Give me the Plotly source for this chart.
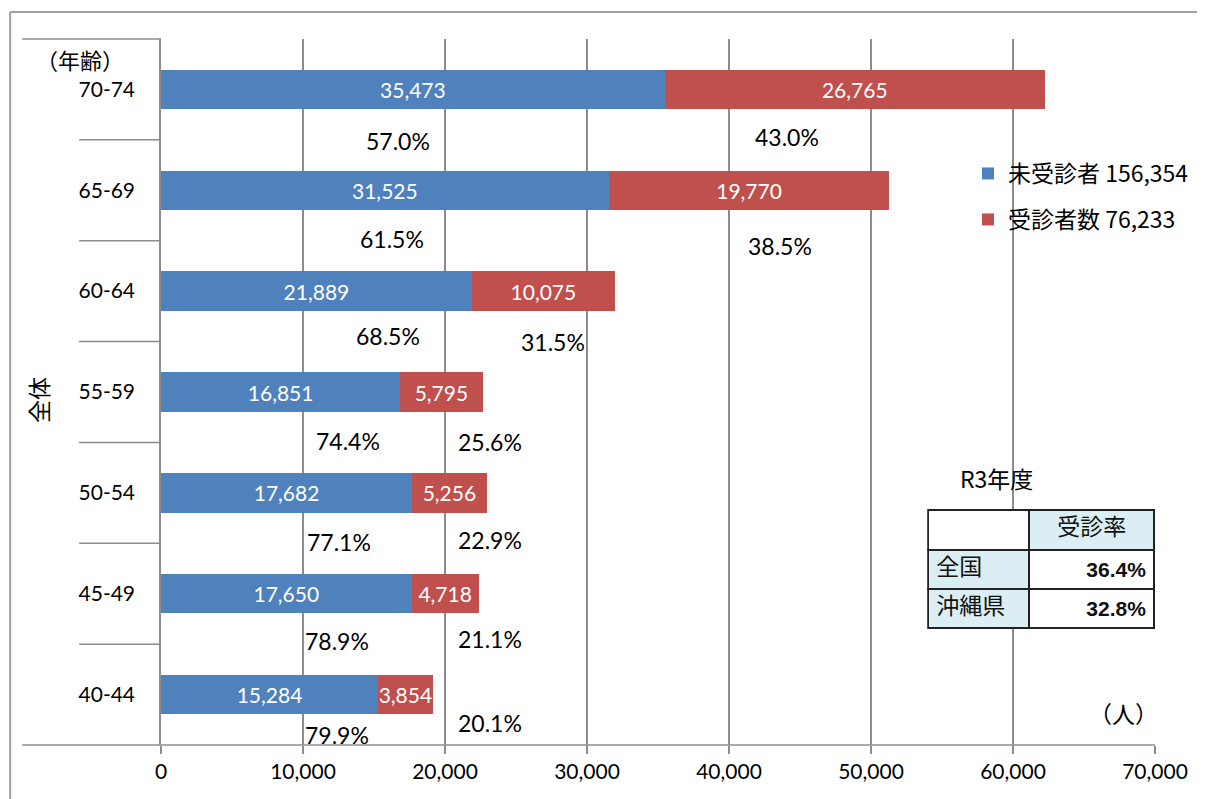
import plotly.graph_objects as go

# data (bottom -> top)
ages = ["40-44", "45-49", "50-54", "55-59", "60-64", "65-69", "70-74"]
not_examined = [15284, 17650, 17682, 16851, 21889, 31525, 35473]
examined = [3854, 4718, 5256, 5795, 10075, 19770, 26765]
pct_not_examined = ["79.9%", "78.9%", "77.1%", "74.4%", "68.5%", "61.5%", "57.0%"]
pct_examined = ["20.1%", "21.1%", "22.9%", "25.6%", "31.5%", "38.5%", "43.0%"]

legend_names = ["未受診者 156,354", "受診者数 76,233"]
table_header = ["", "受診率"]
table_rows = ["全国", "沖縄県"]
table_rates = ["36.4%", "32.8%"]

# label placement (x in people, y offset below bar in category units)
blue_pct_x = [12400, 12400, 12500, 13200, 16000, 16300, 16700]
blue_pct_dy = [0.40, 0.47, 0.49, 0.49, 0.44, 0.48, 0.51]
red_pct_x = [23150, 23150, 23150, 23150, 27600, 43600, 44100]
red_pct_dy = [0.28, 0.45, 0.47, 0.50, 0.50, 0.55, 0.47]

BLUE = "#4F81BD"
RED = "#C0504D"
GRID = "#8C8C8C"
FONT = "Lato, Noto Sans CJK JP, sans-serif"
JP = "Noto Sans CJK JP, sans-serif"

# page body has an 8px margin, so the figure is a bit smaller than the window
OFF = 8
W, H = 1205 - OFF, 799 - OFF
L, T = 161 - OFF, 39 - OFF
R, B = W - (1156 - OFF), H - (745 - OFF)
PW, PH = W - L - R, H - T - B


# screen pixel -> paper coords
def px(x):
    return (x - 161) / PW


def py(y):
    return (745 - y) / PH


yidx = list(range(len(ages)))

fig = go.Figure()
fig.add_trace(go.Bar(
    y=yidx, x=not_examined, orientation="h", name=legend_names[0],
    marker=dict(color=BLUE, line=dict(width=0)),
    text=[f"{v:,}" for v in not_examined], textposition="inside",
    insidetextanchor="middle", constraintext="none",
    textfont=dict(color="white", size=21, family=FONT),
    legend="legend",
))
fig.add_trace(go.Bar(
    y=yidx, x=examined, orientation="h", name=legend_names[1],
    marker=dict(color=RED, line=dict(width=0)),
    text=[f"{v:,}" for v in examined], textposition="inside",
    insidetextanchor="middle", constraintext="none",
    textfont=dict(color="white", size=21, family=FONT),
    legend="legend2",
))

# table R3年度
fig.add_trace(go.Table(
    domain=dict(x=[px(929), px(1156)], y=[py(640), py(510)]),
    columnwidth=[101, 125],
    header=dict(
        values=table_header,
        fill_color=["white", "#DAEEF3"],
        line=dict(color="#222222", width=2),
        align=["left", "center"],
        font=dict(family=JP, size=23, color="#111111"),
        height=40,
    ),
    cells=dict(
        values=[table_rows, [f"<b>{v}</b>" for v in table_rates]],
        fill_color=["#DAEEF3", "white"],
        line=dict(color="#222222", width=2),
        align=["left", "right"],
        font=dict(family=[JP, "Liberation Sans Narrow, Liberation Sans, sans-serif"],
                  size=[23, 21], color="#111111"),
        height=39,
    ),
))

annotations = []
for i in yidx:
    annotations.append(dict(x=blue_pct_x[i], y=i - blue_pct_dy[i], text=pct_not_examined[i],
                            showarrow=False, xanchor="center", yanchor="middle",
                            font=dict(size=23, family=FONT, color="black")))
    annotations.append(dict(x=red_pct_x[i], y=i - red_pct_dy[i], text=pct_examined[i],
                            showarrow=False, xanchor="center", yanchor="middle",
                            font=dict(size=23, family=FONT, color="black")))

for txt, x, y, ang, sz in [("（年齢）", 80, 59, 0, 22), ("全体", 38, 400, -90, 23),
                           ("R3年度", 997, 478, 0, 23), ("（人）", 1124, 713, 0, 23)]:
    annotations.append(dict(x=px(x), y=py(y), xref="paper", yref="paper", text=txt,
                            showarrow=False, xanchor="center", yanchor="middle",
                            textangle=ang, font=dict(size=sz, family=JP, color="black")))

shapes = [
    # outer frame: only top and left edges are visible
    dict(type="line", xref="paper", yref="paper", x0=px(10), x1=px(1210), y0=py(12), y1=py(12),
         line=dict(color="#A0A0A0", width=2), layer="below"),
    dict(type="line", xref="paper", yref="paper", x0=px(10), x1=px(10), y0=py(12), y1=py(810),
         line=dict(color="#A0A0A0", width=2), layer="below"),
    # bottom axis line extending left
    dict(type="line", xref="paper", yref="paper", x0=px(22), x1=1, y0=0, y1=0,
         line=dict(color=GRID, width=1.5)),
    # top boundary extending left
    dict(type="line", xref="paper", yref="paper", x0=px(22), x1=0, y0=1, y1=1,
         line=dict(color=GRID, width=1.5)),
]
for k in range(1, len(ages)):
    shapes.append(dict(type="line", xref="paper", yref="y", x0=px(79), x1=0, y0=k - 0.5, y1=k - 0.5,
                       line=dict(color=GRID, width=1.5)))

fig.update_layout(
    width=W, height=H,
    margin=dict(l=L, r=R, t=T, b=B),
    paper_bgcolor="white", plot_bgcolor="white",
    barmode="stack", bargap=0.61,
    showlegend=True,
    font=dict(family=FONT, size=20, color="black"),
    xaxis=dict(range=[0, 70000], tickvals=list(range(0, 70001, 10000)),
               tickformat=",", showgrid=True, gridcolor=GRID, gridwidth=1.5,
               zeroline=False, showline=False, ticks="outside", ticklen=8,
               tickcolor=GRID, tickwidth=1.5, tickfont=dict(size=21, family=FONT)),
    yaxis=dict(range=[-0.5, 6.5], tickvals=yidx, ticktext=ages, showgrid=False,
               zeroline=False, showline=True, linecolor=GRID, linewidth=1.5,
               ticks="", ticklabelstandoff=20, tickfont=dict(size=21, family=FONT)),
    legend=dict(x=px(968), y=py(152), xanchor="left", yanchor="top",
                bgcolor="rgba(0,0,0,0)", font=dict(size=23, family=JP)),
    legend2=dict(x=px(968), y=py(198), xanchor="left", yanchor="top",
                 bgcolor="rgba(0,0,0,0)", font=dict(size=23, family=JP)),
    annotations=annotations,
    shapes=shapes,
)

fig.write_html("out.html")
